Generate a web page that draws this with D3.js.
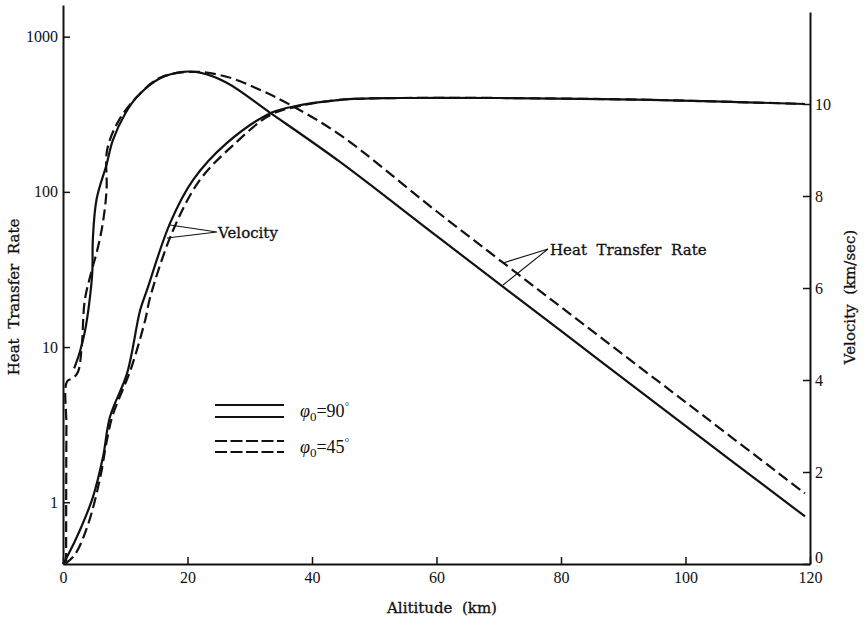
<!DOCTYPE html>
<html>
<head>
<meta charset="utf-8">
<script src="https://cdn.jsdelivr.net/npm/d3@7"></script>
<style>
body{margin:0;background:#fff;}
svg text{font-family:"Liberation Serif","DejaVu Serif",serif;fill:#111;}
svg text.lbl{font-family:"DejaVu Serif",serif;font-size:15px;stroke:#111;stroke-width:0.3px;}
</style>
</head>
<body>
<div id="chart"></div>
<script>
// altitude (km) / heat transfer rate, phi0 = 90 (solid) and 45 (dashed)
var heat90Alt=[1.8,2.7,3.5,4.2,4.7,4.8,5.4,7.0,8.0,10,11.9,15.6,19.3,22,26.3,33.3,44.5,60,80,100,119.2];
var heat90Val=[7.3,9.3,12.5,19,30,50,90,150,215,320,410,540,594,586,505,323,156,52,12.7,3.1,0.81];
var heat45Alt=[0.5,0.55,0.65,1.6,2.4,3.0,3.5,4.6,5.5,6.4,7.0,7.1,9,11.9,15.6,20.9,26.3,31.6,36.5,44.5,60,80,100,119.2];
var heat45Val=[0.4,3,6.0,6.3,6.9,10,20,31,42,63,103,187,290,410,544,594,552,455,364,233,75,18.1,4.42,1.14];
// altitude (km) / velocity (km/sec)
var vel90Alt=[0,0.64,2.73,4.82,6.43,7.55,10.3,12.4,13.5,17.2,20.9,26.3,33.3,36.5,44.5,54.1,70.2,94.3,119.2];
var vel90Val=[0,0.15,0.74,1.46,2.33,3.2,4.15,5.52,5.96,7.41,8.35,9.15,9.8,9.93,10.09,10.13,10.13,10.09,10.0];
var vel45Alt=[0.3,1.9,4.0,5.9,7.07,8.0,10.8,13.2,14.0,17.7,22.0,27.3,33.3,38.1,44.5,54.1,70.2,94.3,119.2];
var vel45Val=[0,0.2,0.85,1.83,2.7,3.24,4.2,5.3,5.8,7.26,8.35,9.1,9.76,9.96,10.09,10.13,10.13,10.09,10.0];

var xTicks=[0,20,40,60,80,100,120];
var heatTicks=[1,10,100,1000];
var velTicks=[0,2,4,6,8,10];

var W=866,H=624;
var svg=d3.select("#chart").append("svg").attr("width",W).attr("height",H);

var x=d3.scaleLinear().domain([0,120]).range([63,810]);
var yHeat=d3.scaleLog().domain([0.4,1600]).range([564,5]);
var yVel=d3.scaleLinear().domain([0,12]).range([564,12]);

function styleAxis(g){
	g.select(".domain").attr("stroke","#111").attr("stroke-width",2);
	g.selectAll(".tick line").attr("stroke","#111").attr("stroke-width",1.5);
	g.selectAll(".tick text").style("font-size","16px").attr("fill","#111");
}

var gx=svg.append("g").attr("transform","translate(0,564)")
	.call(d3.axisBottom(x).tickValues(xTicks).tickSize(-7).tickSizeOuter(0).tickPadding(6));
styleAxis(gx);
gx.selectAll(".tick text").attr("dy","0.8em");

var gl=svg.append("g").attr("transform","translate(63,0)")
	.call(d3.axisLeft(yHeat).tickValues(heatTicks).tickFormat(d3.format("d")).tickSize(-7).tickSizeOuter(0).tickPadding(5));
styleAxis(gl);

var gr=svg.append("g").attr("transform","translate(810,0)")
	.call(d3.axisRight(yVel).tickValues(velTicks).tickSize(-7).tickSizeOuter(0).tickPadding(5));
styleAxis(gr);
gr.selectAll(".tick text").filter(function(d){return d===0;}).attr("dy","-0.1em");

function line(yS){
	return d3.line().x(function(d){return x(d[0]);}).y(function(d){return yS(d[1]);})
		.curve(d3.curveCatmullRom.alpha(0.5));
}
function pairs(a,b){return a.map(function(v,i){return [v,b[i]];});}

var curves=[
	{d:pairs(heat90Alt,heat90Val),y:yHeat,dash:null},
	{d:pairs(heat45Alt,heat45Val),y:yHeat,dash:"11,5"},
	{d:pairs(vel90Alt,vel90Val),y:yVel,dash:null},
	{d:pairs(vel45Alt,vel45Val),y:yVel,dash:"11,5"}
];
curves.forEach(function(c){
	svg.append("path").attr("d",line(c.y)(c.d))
		.attr("fill","none").attr("stroke","#111").attr("stroke-width",2.2)
		.attr("stroke-dasharray",c.dash);
});

// annotation pointers
var ann=svg.append("g").attr("stroke","#111").attr("stroke-width",1.1).attr("fill","none");
ann.append("path").attr("d","M217,232L170,225M217,232L167,238");
ann.append("path").attr("d","M548,249L503,263M548,249L503,285");
svg.append("text").attr("class","lbl").attr("x",218).attr("y",238).text("Velocity");
svg.append("text").attr("class","lbl").attr("x",550).attr("y",255).attr("xml:space","preserve").text("Heat  Transfer  Rate");

// legend
var leg=[{y1:405,y2:417,dash:null,label:"90"},{y1:441,y2:452,dash:"12,3.5",label:"45"}];
leg.forEach(function(l){
	[l.y1,l.y2].forEach(function(yy){
		svg.append("line").attr("x1",215).attr("x2",284).attr("y1",yy).attr("y2",yy)
			.attr("stroke","#111").attr("stroke-width",2.2).attr("stroke-dasharray",l.dash);
	});
	var t=svg.append("text").attr("x",300).attr("y",(l.y1+l.y2)/2+6).style("font-size","18px");
	t.append("tspan").style("font-style","italic").text("φ");
	t.append("tspan").attr("dy",4).style("font-size","13px").text("0");
	t.append("tspan").attr("dy",-4).text("="+l.label);
	t.append("tspan").attr("dy",-7).style("font-size","11px").text("°");
});

// axis titles
svg.append("text").attr("class","lbl").attr("x",442).attr("y",613).attr("text-anchor","middle")
	.attr("xml:space","preserve").text("Alititude  (km)");
svg.append("text").attr("class","lbl").attr("transform","translate(19,297) rotate(-90)").attr("text-anchor","middle")
	.attr("xml:space","preserve").text("Heat  Transfer  Rate");
svg.append("text").attr("class","lbl").attr("transform","translate(855,297) rotate(-90)").attr("text-anchor","middle")
	.attr("xml:space","preserve").text("Velocity  (km/sec)");
</script>
</body>
</html>
